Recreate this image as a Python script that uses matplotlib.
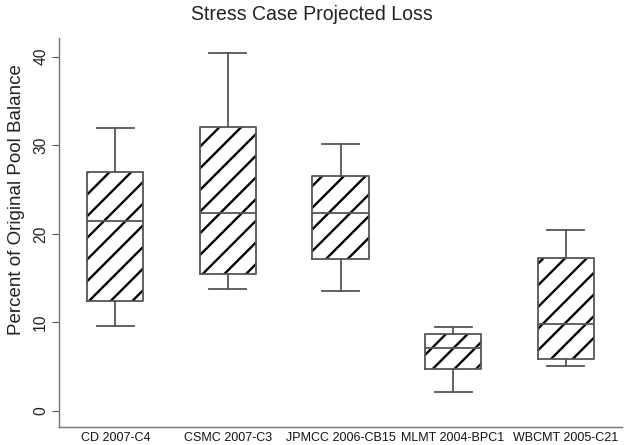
import matplotlib
matplotlib.use("Agg")
import matplotlib.pyplot as plt

categories = ["CD 2007-C4", "CSMC 2007-C3", "JPMCC 2006-CB15", "MLMT 2004-BPC1", "WBCMT 2005-C21"]
whisker_low = [9.6, 13.8, 13.6, 2.2, 5.1]
q1 = [12.4, 15.5, 17.2, 4.7, 5.9]
median = [21.4, 22.3, 22.4, 7.1, 9.8]
q3 = [27.0, 32.0, 26.5, 8.7, 17.3]
whisker_high = [31.9, 40.4, 30.1, 9.5, 20.4]
yticks = [0, 10, 20, 30, 40]

DPI = 130
plt.rcParams['font.family'] = ['Liberation Sans', 'DejaVu Sans']
plt.rcParams['hatch.linewidth'] = 1.3
plt.rcParams['hatch.color'] = 'black'

fig = plt.figure(figsize=(636 / DPI, 445 / DPI), dpi=DPI)
ax = fig.add_axes([59 / 636, (445 - 427) / 445, (622 - 59) / 636, (427 - 38) / 445])

stats = []
for i, c in enumerate(categories):
    stats.append(dict(label=c, whislo=whisker_low[i], q1=q1[i], med=median[i],
                      q3=q3[i], whishi=whisker_high[i], fliers=[]))

gray = '#555555'
pos = list(range(1, len(categories) + 1))
# hatch layer
ax.bxp(stats, positions=pos, widths=0.5, patch_artist=True, showcaps=False,
       boxprops=dict(facecolor='white', edgecolor='black', linewidth=0, hatch='//'),
       whiskerprops=dict(linewidth=0), medianprops=dict(linewidth=0))
# outline layer
ax.bxp(stats, positions=pos, widths=0.5, capwidths=0.33,
       boxprops=dict(color=gray, linewidth=1.0),
       whiskerprops=dict(color=gray, linewidth=1.0),
       capprops=dict(color=gray, linewidth=1.0),
       medianprops=dict(color=gray, linewidth=1.0))

ax.set_xlim(0.5, 5.5)
ax.set_ylim(-1.8, 42.1)
ax.set_yticks(yticks)
ax.set_yticklabels([str(t) for t in yticks], rotation=90, va='center', fontsize=8.7, color='#222222')
ax.set_xticks(pos)
ax.set_xticklabels(categories, fontsize=6.9, color='#111111')
ax.tick_params(axis='x', length=0, pad=3)
ax.tick_params(axis='y', length=4, width=0.6, color=gray, pad=2)

for s in ['top', 'right']:
    ax.spines[s].set_visible(False)
for s in ['left', 'bottom']:
    ax.spines[s].set_color('#777777')
    ax.spines[s].set_linewidth(0.8)

fig.text(17 / 636, 1 - 200 / 445, 'Percent of Original Pool Balance', rotation=90,
         ha='center', va='center', fontsize=10.4, color='#222222')
fig.text(312 / 636, 1 - 15 / 445, 'Stress Case Projected Loss', ha='center', va='center',
         fontsize=10.8, color='#222222')

fig.savefig('out.png', dpi=DPI)
